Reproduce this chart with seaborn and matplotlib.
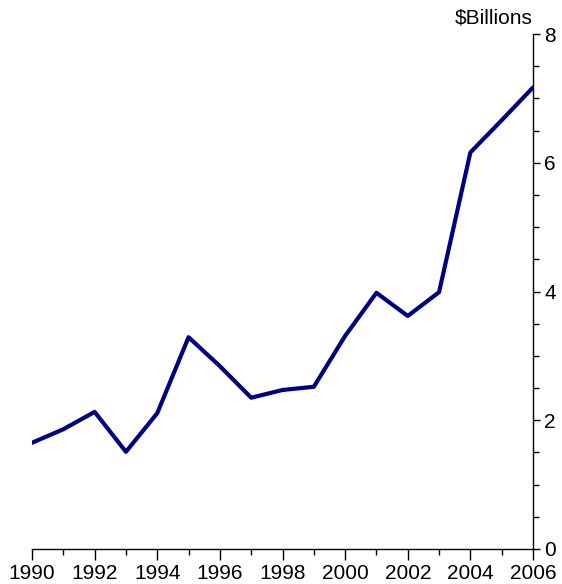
import matplotlib
matplotlib.use("Agg")
import matplotlib.pyplot as plt
from matplotlib.ticker import MultipleLocator
import pandas as pd
import seaborn as sns

# data
years = list(range(1990, 2007))
billions = [1.65, 1.86, 2.13, 1.51, 2.11, 3.29, 2.84, 2.35, 2.47, 2.52,
            3.31, 3.98, 3.62, 3.99, 6.16, 6.66, 7.17]
x_ticks = [1990, 1992, 1994, 1996, 1998, 2000, 2002, 2004, 2006]
y_ticks = [0, 2, 4, 6, 8]

df = pd.DataFrame({"year": years, "value": billions})

sns.set_style("ticks")
plt.rcParams["font.family"] = ["Liberation Sans", "DejaVu Sans"]
plt.rcParams["text.color"] = "black"
plt.rcParams["xtick.color"] = "black"
plt.rcParams["ytick.color"] = "black"

fig = plt.figure(figsize=(5.62, 5.84), dpi=100)
ax = fig.add_axes([32 / 562, 35 / 584, 501 / 562, 515 / 584])

sns.lineplot(data=df, x="year", y="value", color="#000080", linewidth=3, ax=ax)

ax.set_xlim(1990, 2006)
ax.set_ylim(0, 8)
ax.set_xticks(x_ticks)
ax.set_yticks(y_ticks)
ax.xaxis.set_minor_locator(MultipleLocator(1))
ax.yaxis.set_minor_locator(MultipleLocator(0.5))

ax.yaxis.tick_right()
ax.yaxis.set_label_position("right")
for side in ["left", "top"]:
    ax.spines[side].set_visible(False)
for side in ["right", "bottom"]:
    ax.spines[side].set_linewidth(1)
    ax.spines[side].set_color("black")

ax.tick_params(axis="x", which="major", direction="out", length=8, width=1,
               labelsize=15, labelcolor="black", pad=3)
ax.tick_params(axis="x", which="minor", direction="out", length=4, width=1)
ax.tick_params(axis="y", which="major", direction="out", length=5, width=1,
               labelsize=15, labelcolor="black", pad=3)
ax.tick_params(axis="y", which="minor", direction="out", length=4, width=1)

ax.set_xlabel("")
ax.set_ylabel("")
ax.text(1.0, 1.012, "$Billions", transform=ax.transAxes, ha="right", va="bottom",
        fontsize=15, color="black")

fig.savefig("out.png", dpi=100)
